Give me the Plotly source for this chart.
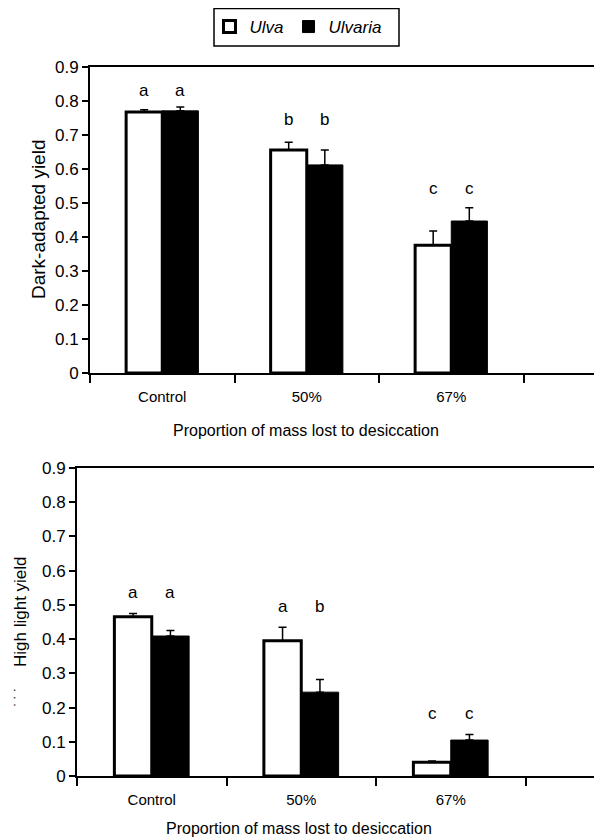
import plotly.graph_objects as go

categories = ["Control", "50%", "67%"]
series_names = ["Ulva", "Ulvaria"]

# Panel A: dark-adapted yield
dark_ulva = [0.768, 0.656, 0.376]
dark_ulva_err = [0.006, 0.023, 0.042]
dark_ulvaria = [0.771, 0.612, 0.447]
dark_ulvaria_err = [0.011, 0.044, 0.039]
dark_letters_ulva = ["a", "b", "c"]
dark_letters_ulvaria = ["a", "b", "c"]
dark_letter_y = [0.83, 0.747, 0.544]

# Panel B: high light yield
high_ulva = [0.465, 0.395, 0.040]
high_ulva_err = [0.010, 0.040, 0.004]
high_ulvaria = [0.409, 0.245, 0.105]
high_ulvaria_err = [0.016, 0.037, 0.016]
high_letters_ulva = ["a", "a", "c"]
high_letters_ulvaria = ["a", "b", "c"]
high_letter_y = [0.535, 0.494, 0.184]

y_ticks = [0, 0.1, 0.2, 0.3, 0.4, 0.5, 0.6, 0.7, 0.8, 0.9]
y_ticktext = ["0", "0.1", "0.2", "0.3", "0.4", "0.5", "0.6", "0.7", "0.8", "0.9"]

FONT = "Liberation Sans, Arial, Helvetica, sans-serif"
# page body has an 8px default margin, so the figure is 8px smaller each way
W, H = 594, 830
OFF = 8
xpos = list(range(len(categories)))


def px_x(v):
    return (v - OFF) / W


def px_y(v):
    return 1 - (v - OFF) / H


fig = go.Figure()


def add_panel(ulva, ulva_err, ulvaria, ulvaria_err, xa, ya, showlegend):
    fig.add_trace(go.Bar(
        x=xpos, y=ulva, name="<i>" + series_names[0] + "</i>",
        marker=dict(color="white", line=dict(color="black", width=3)),
        error_y=dict(type="data", array=ulva_err, arrayminus=[0] * 3, symmetric=False,
                     color="black", thickness=1.5, width=4),
        xaxis=xa, yaxis=ya, showlegend=showlegend, legendgroup="ulva",
    ))
    fig.add_trace(go.Bar(
        x=xpos, y=ulvaria, name="<i>" + series_names[1] + "</i>",
        marker=dict(color="black", line=dict(color="black", width=1)),
        error_y=dict(type="data", array=ulvaria_err, arrayminus=[0] * 3, symmetric=False,
                     color="black", thickness=1.5, width=4),
        xaxis=xa, yaxis=ya, showlegend=showlegend, legendgroup="ulvaria",
    ))


add_panel(dark_ulva, dark_ulva_err, dark_ulvaria, dark_ulvaria_err, "x", "y", True)
add_panel(high_ulva, high_ulva_err, high_ulvaria, high_ulvaria_err, "x2", "y2", False)


def xaxis_cfg(domain, rng):
    return dict(
        domain=domain, range=rng, automargin=False,
        tickmode="array", tickvals=xpos, ticktext=categories,
        ticks="outside", ticklen=9, tickcolor="rgba(0,0,0,0)",
        tickfont=dict(family=FONT, size=15, color="black"),
        showline=True, linecolor="black", linewidth=1.5, mirror=True,
        showgrid=False, zeroline=False, fixedrange=True,
        minor=dict(tickmode="array", tickvals=[-0.5, 0.5, 1.5, 2.5],
                   ticks="outside", ticklen=8, tickwidth=2, tickcolor="black", showgrid=False),
    )


def yaxis_cfg(domain, anchor):
    return dict(
        domain=domain, range=[0, 0.9], anchor=anchor, automargin=False,
        tickmode="array", tickvals=y_ticks, ticktext=y_ticktext,
        ticks="outside", ticklen=6, tickwidth=1.5, tickcolor="black",
        tickfont=dict(family=FONT, size=17, color="black"),
        showline=True, linecolor="black", linewidth=2,
        showgrid=False, zeroline=False, fixedrange=True,
    )


top_dom = [px_y(373), px_y(67)]
bot_dom = [px_y(776), px_y(468)]
x1_range = [-0.5, -0.5 + (602 - 90) / 144.5]
x2_range = [-0.5, -0.5 + (602 - 77) / 149.5]

fig.update_layout(
    width=W, height=H,
    margin=dict(l=0, r=0, t=0, b=0, autoexpand=False),
    paper_bgcolor="white", plot_bgcolor="white",
    barmode="group", bargap=0.5, bargroupgap=0,
    font=dict(family=FONT, color="black"),
    xaxis=dict(xaxis_cfg([px_x(90), 1], x1_range), anchor="y"),
    yaxis=yaxis_cfg(top_dom, "x"),
    xaxis2=dict(xaxis_cfg([px_x(77), 1], x2_range), anchor="y2"),
    yaxis2=yaxis_cfg(bot_dom, "x2"),
    legend=dict(
        orientation="h", x=px_x(298), xanchor="center", y=px_y(27), yanchor="middle",
        borderwidth=0, bgcolor="rgba(0,0,0,0)",
        font=dict(family=FONT, size=17, color="black"),
        itemwidth=30,
    ),
    shapes=[dict(type="rect", xref="paper", yref="paper",
                 x0=px_x(214), x1=px_x(399), y0=px_y(46), y1=px_y(8.5),
                 line=dict(color="black", width=1.5), fillcolor="rgba(0,0,0,0)", layer="below")],
)

annotations = []
# Significance letters
for i in range(3):
    for j, lt in enumerate([dark_letters_ulva[i], dark_letters_ulvaria[i]]):
        annotations.append(dict(x=i - 0.125 + 0.25 * j, y=dark_letter_y[i], xref="x", yref="y",
                                text=lt, showarrow=False, xanchor="center", yanchor="middle",
                                font=dict(family=FONT, size=17, color="black")))
    for j, lt in enumerate([high_letters_ulva[i], high_letters_ulvaria[i]]):
        annotations.append(dict(x=i - 0.125 + 0.25 * j, y=high_letter_y[i], xref="x2", yref="y2",
                                text=lt, showarrow=False, xanchor="center", yanchor="middle",
                                font=dict(family=FONT, size=17, color="black")))

# Axis titles
annotations += [
    dict(x=px_x(306), y=px_y(430), xref="paper", yref="paper",
         text="Proportion of mass lost to desiccation", showarrow=False,
         xanchor="center", yanchor="middle",
         font=dict(family=FONT, size=16, color="black")),
    dict(x=px_x(299), y=px_y(828), xref="paper", yref="paper",
         text="Proportion of mass lost to desiccation", showarrow=False,
         xanchor="center", yanchor="middle",
         font=dict(family=FONT, size=16, color="black")),
    dict(x=px_x(38), y=px_y(220), xref="paper", yref="paper", textangle=-90,
         text="Dark-adapted yield", showarrow=False,
         xanchor="center", yanchor="middle",
         font=dict(family=FONT, size=19, color="black")),
    dict(x=px_x(20), y=px_y(612), xref="paper", yref="paper", textangle=-90,
         text="High light yield", showarrow=False,
         xanchor="center", yanchor="middle",
         font=dict(family=FONT, size=17, color="black")),
    dict(x=px_x(14), y=px_y(698), xref="paper", yref="paper", textangle=-90,
         text="· · ·", showarrow=False,
         xanchor="center", yanchor="middle",
         font=dict(family=FONT, size=12, color="black")),
]
fig.update_layout(annotations=annotations)

fig.write_html("out.html")
